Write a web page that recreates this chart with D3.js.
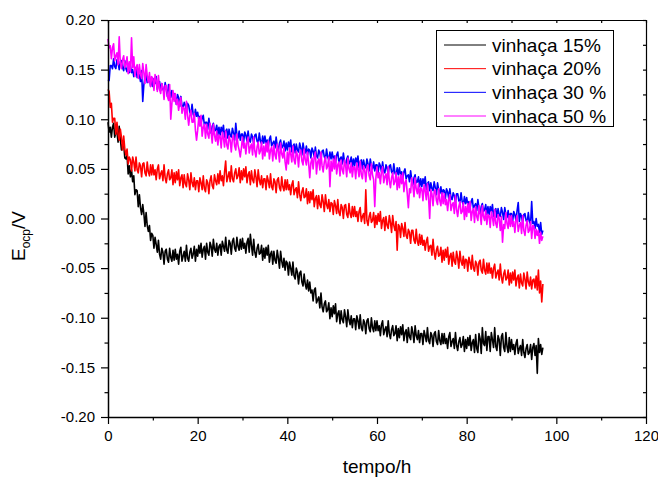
<!DOCTYPE html>
<html><head><meta charset="utf-8">
<script src="https://cdn.jsdelivr.net/npm/d3@7"></script>
<style>body{margin:0;background:#fff}svg{display:block;font-family:"Liberation Sans",Arial,sans-serif}</style>
</head><body><svg id="c" width="658" height="478"></svg>
<script>
const seriesNames = ["vinhaça 15%", "vinhaça 20%", "vinhaça 30 %", "vinhaça 50 %"];
const seriesColors = ["#000000", "#ff0000", "#0000ff", "#ff00ff"];
const sampleStepHours = 0.25;
const xTickValues = [0, 20, 40, 60, 80, 100, 120];
const xMinorTicks = [10, 30, 50, 70, 90, 110];
const yTickValues = [-0.20, -0.15, -0.10, -0.05, 0.00, 0.05, 0.10, 0.15, 0.20];
const yMinorTicks = [-0.175, -0.125, -0.075, -0.025, 0.025, 0.075, 0.125, 0.175];

// one row = 5 h (samples every 0.25 h)
const v15 = [
.097,.087,.092,.082,.092,.096,.082,.087,.087,.077,.093,.080,.069,.075,.075,.061,.060,.064,.045,.053,
.042,.049,.037,.043,.024,.029,.028,.012,.024,.011,.004,.014,.005,-.008,.006,-.007,-.013,-.007,-.022,-.015,
-.017,-.030,-.019,-.026,-.034,-.022,-.036,-.041,-.030,-.034,-.046,-.033,-.031,-.041,-.044,-.030,-.039,-.043,-.032,-.042,
-.031,-.041,-.036,-.046,-.033,-.029,-.043,-.038,-.033,-.043,-.027,-.040,-.043,-.034,-.030,-.040,-.036,-.028,-.043,-.031,
-.038,-.027,-.035,-.025,-.039,-.031,-.028,-.041,-.025,-.034,-.037,-.024,-.028,-.038,-.021,-.031,-.034,-.025,-.037,-.028,
-.026,-.037,-.023,-.028,-.033,-.019,-.032,-.035,-.022,-.025,-.036,-.023,-.020,-.030,-.033,-.019,-.028,-.032,-.021,-.031,
-.020,-.030,-.025,-.035,-.024,-.020,-.034,-.016,-.027,-.037,-.021,-.034,-.039,-.030,-.026,-.036,-.035,-.027,-.042,-.030,
-.040,-.029,-.037,-.027,-.044,-.036,-.033,-.046,-.033,-.042,-.045,-.032,-.040,-.050,-.033,-.043,-.049,-.040,-.052,-.043,
-.045,-.057,-.044,-.050,-.057,-.044,-.058,-.061,-.050,-.054,-.066,-.055,-.053,-.064,-.068,-.056,-.066,-.071,-.062,-.073,
-.064,-.075,-.072,-.083,-.072,-.070,-.085,-.082,-.079,-.090,-.075,-.089,-.094,-.086,-.083,-.094,-.092,-.085,-.101,-.090,
-.099,-.088,-.096,-.086,-.104,-.096,-.093,-.106,-.093,-.102,-.105,-.092,-.099,-.109,-.092,-.102,-.107,-.098,-.110,-.101,
-.101,-.112,-.098,-.103,-.111,-.097,-.110,-.113,-.102,-.105,-.116,-.103,-.101,-.111,-.114,-.100,-.110,-.114,-.103,-.113,
-.103,-.113,-.108,-.118,-.107,-.103,-.117,-.112,-.109,-.119,-.103,-.116,-.121,-.112,-.108,-.118,-.116,-.108,-.123,-.111,
-.120,-.109,-.117,-.107,-.123,-.115,-.112,-.125,-.110,-.119,-.122,-.109,-.115,-.125,-.108,-.118,-.122,-.113,-.125,-.116,
-.116,-.127,-.113,-.118,-.124,-.110,-.123,-.126,-.115,-.118,-.129,-.116,-.114,-.124,-.127,-.113,-.123,-.127,-.116,-.126,
-.116,-.126,-.121,-.131,-.119,-.115,-.129,-.124,-.121,-.131,-.115,-.128,-.133,-.124,-.120,-.130,-.127,-.119,-.134,-.122,
-.131,-.120,-.128,-.118,-.133,-.125,-.122,-.135,-.117,-.131,-.135,-.116,-.121,-.136,-.110,-.126,-.128,-.114,-.133,-.119,
-.119,-.134,-.115,-.122,-.130,-.110,-.129,-.133,-.118,-.122,-.138,-.119,-.116,-.130,-.134,-.115,-.129,-.135,-.120,-.134,
-.122,-.132,-.127,-.137,-.126,-.122,-.136,-.131,-.128,-.138,-.122,-.135,-.140,-.131,-.127,-.137,-.135,-.127,-.142,-.130,
-.126,-.138,-.128,-.156,-.121,-.135,-.127,-.137,-.130];

const v20 = [
.130,.128,.112,.116,.097,.101,.101,.085,.097,.085,.079,.090,.082,.069,.083,.070,.064,.070,.055,.062,
.059,.048,.062,.057,.048,.062,.049,.046,.056,.053,.042,.055,.056,.046,.043,.057,.047,.043,.054,.044,
.054,.044,.049,.039,.050,.054,.040,.045,.048,.038,.054,.041,.036,.045,.049,.039,.041,.049,.034,.046,
.036,.047,.039,.049,.033,.041,.044,.031,.044,.035,.032,.045,.039,.029,.046,.036,.032,.041,.029,.038,
.038,.027,.041,.036,.029,.043,.030,.027,.039,.036,.025,.038,.043,.033,.030,.044,.038,.034,.045,.035,
.048,.038,.043,.033,.047,.058,.037,.042,.047,.037,.053,.040,.037,.046,.050,.040,.043,.051,.036,.048,
.039,.050,.042,.052,.036,.044,.047,.034,.048,.039,.036,.049,.042,.032,.049,.039,.034,.043,.031,.040,
.040,.029,.043,.038,.031,.045,.032,.029,.040,.037,.026,.039,.041,.031,.028,.042,.032,.028,.039,.029,
.039,.029,.034,.024,.034,.038,.024,.029,.031,.021,.037,.024,.018,.027,.031,.021,.022,.030,.015,.027,
.016,.027,.019,.029,.012,.020,.023,.010,.023,.014,.011,.024,.017,.007,.024,.014,.010,.019,.007,.016,
.015,.004,.018,.013,.005,.019,.006,.003,.014,.011,.000,.013,.014,.004,.001,.015,.005,.001,.012,.002,
.012,.002,.007,-.003,.007,.011,-.003,.002,.005,-.005,.029,-.002,-.007,.002,.006,-.004,-.002,.006,-.009,.003,
-.006,.005,-.003,.007,-.010,-.002,.001,-.012,.002,-.007,-.010,.003,-.004,-.014,.003,-.007,-.012,-.003,-.032,-.006,
-.008,-.019,-.005,-.010,-.018,-.004,-.017,-.020,-.011,-.014,-.025,-.012,-.012,-.022,-.025,-.011,-.023,-.027,-.016,-.026,
-.017,-.027,-.022,-.032,-.023,-.019,-.033,-.028,-.027,-.037,-.021,-.034,-.041,-.032,-.028,-.038,-.037,-.029,-.044,-.032,
-.042,-.031,-.039,-.029,-.046,-.038,-.035,-.048,-.034,-.043,-.046,-.033,-.040,-.050,-.033,-.043,-.047,-.038,-.050,-.041,
-.042,-.053,-.039,-.044,-.051,-.037,-.050,-.053,-.043,-.046,-.057,-.044,-.042,-.052,-.055,-.041,-.052,-.056,-.045,-.055,
-.045,-.055,-.050,-.060,-.050,-.046,-.060,-.055,-.052,-.062,-.046,-.059,-.065,-.056,-.052,-.062,-.060,-.052,-.067,-.055,
-.065,-.054,-.062,-.052,-.068,-.060,-.057,-.070,-.056,-.065,-.068,-.055,-.061,-.071,-.054,-.064,-.068,-.059,-.071,-.062,
-.061,-.070,-.058,-.072,-.052,-.075,-.063,-.084,-.066];

const v30 = [
.140,.139,.154,.154,.151,.161,.153,.151,.160,.157,.150,.158,.159,.152,.149,.159,.151,.148,.155,.147,
.154,.147,.150,.143,.149,.152,.142,.145,.145,.138,.149,.118,.135,.142,.145,.137,.138,.143,.133,.141,
.133,.141,.136,.143,.130,.136,.138,.129,.136,.130,.128,.137,.130,.123,.135,.128,.122,.129,.120,.126,
.123,.115,.125,.122,.113,.123,.114,.112,.117,.114,.107,.116,.114,.107,.105,.115,.105,.102,.110,.103,
.107,.100,.103,.096,.101,.104,.094,.097,.097,.090,.101,.092,.086,.093,.096,.088,.089,.094,.084,.092,
.084,.092,.087,.094,.082,.088,.090,.081,.090,.084,.082,.091,.086,.079,.096,.084,.081,.088,.079,.085,
.085,.077,.087,.084,.078,.088,.079,.077,.085,.082,.075,.084,.085,.078,.076,.086,.078,.075,.083,.076,
.083,.076,.079,.072,.080,.083,.073,.076,.078,.071,.082,.073,.069,.076,.079,.071,.073,.078,.068,.076,
.069,.077,.072,.079,.067,.073,.075,.066,.075,.069,.067,.076,.071,.064,.076,.069,.066,.073,.064,.070,
.069,.061,.071,.068,.062,.072,.063,.061,.069,.066,.059,.068,.069,.062,.060,.070,.062,.059,.067,.060,
.067,.060,.063,.056,.064,.067,.057,.060,.062,.055,.066,.057,.053,.060,.063,.055,.057,.062,.052,.060,
.053,.061,.056,.063,.051,.057,.059,.050,.059,.053,.051,.060,.055,.048,.060,.053,.050,.057,.048,.054,
.054,.046,.056,.053,.047,.057,.048,.046,.054,.051,.044,.053,.054,.047,.045,.055,.046,.043,.051,.044,
.051,.044,.047,.040,.047,.050,.040,.043,.044,.037,.048,.039,.034,.041,.044,.036,.037,.042,.032,.040,
.032,.040,.035,.042,.029,.035,.037,.028,.036,.030,.028,.037,.031,.024,.036,.029,.025,.032,.023,.029,
.028,.020,.030,.027,.020,.030,.021,.019,.026,.023,.016,.025,.025,.018,.016,.026,.017,.014,.022,.015,
.021,.014,.017,.010,.017,.020,.010,.013,.015,.008,.019,.010,.005,.012,.015,.007,.009,.014,.004,.012,
.004,.012,.007,.014,.002,.008,.010,.001,.010,.004,.002,.011,.006,-.001,.011,.004,.001,.008,-.001,.005,
.005,-.003,.007,.004,-.002,.008,.016,-.003,.005,.002,-.005,.004,.005,-.002,-.004,.006,-.003,-.006,.017,-.005,
-.003,-.010,.000,-.008,-.006,-.014,-.004,-.016,-.012];

const v50 = [
.181,.172,.174,.161,.172,.176,.159,.164,.167,.155,.183,.157,.151,.160,.164,.152,.155,.163,.146,.158,
.148,.182,.152,.163,.143,.152,.155,.141,.155,.145,.141,.156,.147,.136,.155,.144,.137,.147,.133,.143,
.141,.129,.145,.139,.128,.144,.130,.126,.136,.132,.120,.134,.134,.123,.119,.135,.100,.116,.129,.118,
.126,.115,.120,.109,.117,.122,.106,.112,.111,.100,.118,.104,.094,.104,.109,.097,.097,.106,.089,.079,
.089,.102,.093,.104,.083,.092,.095,.081,.095,.085,.081,.096,.087,.076,.095,.084,.078,.088,.074,.084,
.083,.071,.087,.081,.072,.088,.074,.070,.083,.079,.067,.081,.084,.073,.069,.085,.074,.069,.062,.071,
.082,.071,.076,.065,.077,.082,.066,.072,.075,.064,.082,.068,.062,.072,.077,.065,.068,.077,.060,.073,
.063,.076,.067,.078,.060,.069,.072,.058,.074,.064,.060,.075,.068,.057,.076,.065,.061,.071,.057,.049,
.067,.055,.071,.065,.057,.073,.059,.055,.068,.064,.052,.066,.069,.058,.054,.070,.059,.054,.067,.056,
.041,.056,.061,.050,.062,.067,.045,.057,.060,.049,.067,.053,.047,.057,.062,.050,.053,.062,.032,.058,
.048,.060,.050,.063,.045,.054,.057,.043,.059,.049,.045,.059,.053,.042,.061,.050,.046,.056,.042,.052,
.052,.040,.056,.050,.042,.058,.044,.040,.053,.049,.037,.051,.054,.043,.039,.055,.044,.039,.012,.041,
.052,.041,.046,.035,.047,.052,.036,.042,.045,.034,.052,.038,.031,.041,.046,.034,.037,.046,.029,.042,
.031,.044,.035,.046,.027,.036,.039,.025,.011,.030,.026,.041,.033,.022,.041,.030,.025,.035,.021,.031,
.030,.018,.034,.028,.019,.035,.021,.000,.029,.025,.013,.027,.029,.018,.014,.030,.018,.013,.026,.015,
.025,.014,.019,.008,.019,.024,.008,.014,.016,.005,.023,.009,.002,.012,.017,.005,.007,.016,-.001,.012,
.002,.015,.006,.017,-.002,.007,.010,-.004,.012,.002,-.002,.013,.005,-.006,.013,.002,-.002,.008,-.006,.004,
.003,-.009,.007,.001,-.007,.009,-.005,-.009,.004,.000,-.012,.002,-.024,-.006,-.010,.006,-.005,-.010,.003,-.008,
.003,-.008,-.003,-.014,-.002,.003,-.013,-.007,-.004,-.015,.003,-.012,-.017,-.007,-.002,-.014,-.012,-.003,-.020,-.007,
-.008,-.020,-.011,-.017,-.012,-.025,-.014,-.022,-.018];

const seriesValues = [v15, v20, v30, v50];

const svg = d3.select("#c");
const plotLeft = 108, plotRight = 646, plotTop = 20, plotBottom = 417;
const x = d3.scaleLinear().domain([0, 120]).range([plotLeft, plotRight]);
const y = d3.scaleLinear().domain([-0.2, 0.2]).range([plotBottom, plotTop]);

const line = d3.line().x((d, i) => x(i * sampleStepHours)).y(d => y(d));
seriesValues.forEach((vals, k) => {
  svg.append("path").attr("d", line(vals)).attr("fill", "none")
    .attr("stroke", seriesColors[k]).attr("stroke-width", 1.6)
    .attr("stroke-linejoin", "round");
});

const fmtY = d => (Math.abs(d) < 1e-9 ? 0 : d).toFixed(2);

const gx = svg.append("g").attr("transform", `translate(0,${plotBottom})`)
  .call(d3.axisBottom(x).tickValues(xTickValues).tickSize(7).tickPadding(6).tickSizeOuter(0));
svg.append("g").attr("transform", `translate(0,${plotBottom})`)
  .call(d3.axisBottom(x).tickValues(xMinorTicks).tickSize(3.5).tickFormat("").tickSizeOuter(0))
  .select(".domain").remove();
const gy = svg.append("g").attr("transform", `translate(${plotLeft},0)`)
  .call(d3.axisLeft(y).tickValues(yTickValues).tickSize(7).tickPadding(6).tickSizeOuter(0).tickFormat(fmtY));
svg.append("g").attr("transform", `translate(${plotLeft},0)`)
  .call(d3.axisLeft(y).tickValues(yMinorTicks).tickSize(3.5).tickFormat("").tickSizeOuter(0))
  .select(".domain").remove();
svg.append("g").attr("transform", `translate(0,${plotTop})`)
  .call(d3.axisBottom(x).tickValues(xTickValues.concat(xMinorTicks)).tickSize(3).tickFormat("").tickSizeOuter(0));
svg.append("g").attr("transform", `translate(${plotRight},0)`)
  .call(d3.axisLeft(y).tickValues(yTickValues.concat(yMinorTicks)).tickSize(3).tickFormat("").tickSizeOuter(0));

svg.selectAll(".domain").attr("stroke", "#000").attr("stroke-width", 1.2);
svg.selectAll(".tick line").attr("stroke", "#000").attr("stroke-width", 1.2);
svg.selectAll(".tick text").attr("font-size", 15).attr("fill", "#000")
  .attr("font-family", '"Liberation Sans", Arial, sans-serif');
gx.select(".domain").attr("stroke-width", 1.5);
gy.select(".domain").attr("stroke-width", 1.5);

svg.append("text").attr("x", 377).attr("y", 473).attr("text-anchor", "middle")
  .attr("font-size", 19).text("tempo/h");
const yt = svg.append("text").attr("transform", "translate(25,236) rotate(-90)")
  .attr("text-anchor", "middle").attr("font-size", 19);
yt.append("tspan").text("E");
yt.append("tspan").attr("font-size", 12).attr("dy", 5).text("ocp");
yt.append("tspan").attr("dy", -5).text("/V");

const lg = svg.append("g");
lg.append("rect").attr("x", 436.5).attr("y", 30.5).attr("width", 177).attr("height", 96)
  .attr("fill", "#fff").attr("stroke", "#000").attr("stroke-width", 1);
const rowY = d3.scaleLinear().domain([0, 3]).range([45, 116]);
seriesNames.forEach((name, k) => {
  lg.append("line").attr("x1", 444).attr("x2", 486).attr("y1", rowY(k)).attr("y2", rowY(k))
    .attr("stroke", seriesColors[k]).attr("stroke-width", 1);
  lg.append("text").attr("x", 492).attr("y", rowY(k)).attr("dy", "0.35em")
    .attr("font-size", 19).text(name);
});
</script></body></html>
